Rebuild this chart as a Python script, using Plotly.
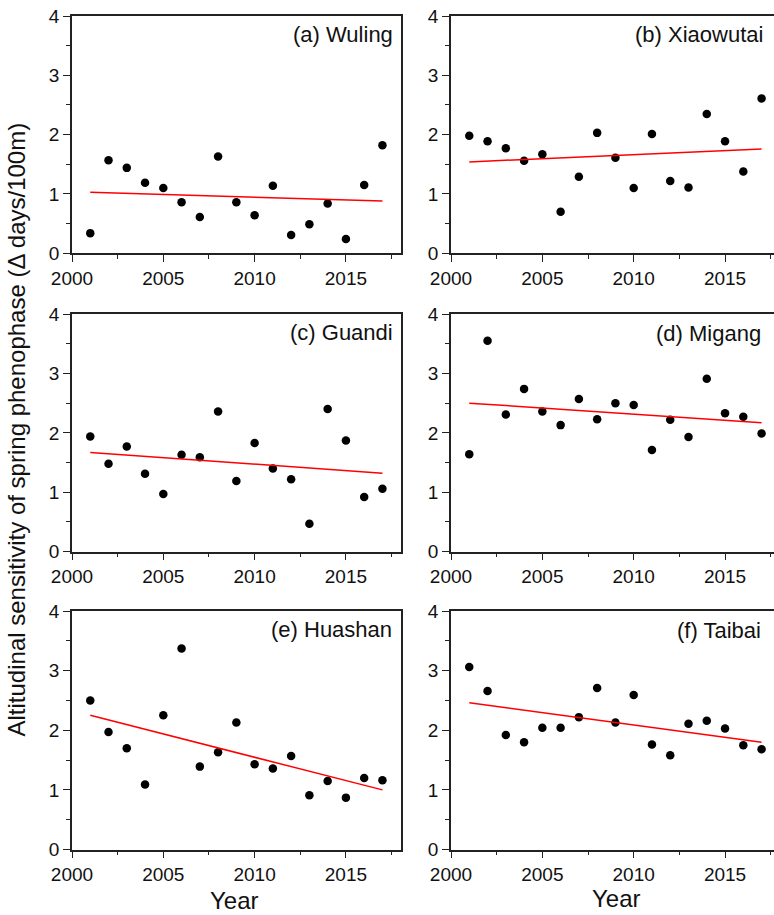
import plotly.graph_objects as go

W, H = 774, 915

years = list(range(2001, 2018))

panel_labels = ["(a) Wuling", "(b) Xiaowutai", "(c) Guandi",
                "(d) Migang", "(e) Huashan", "(f) Taibai"]

wuling = [0.34, 1.57, 1.44, 1.19, 1.10, 0.86, 0.61, 1.63, 0.86, 0.64,
          1.14, 0.31, 0.49, 0.84, 0.24, 1.15, 1.82]
xiaowutai = [1.98, 1.89, 1.77, 1.56, 1.67, 0.70, 1.29, 2.03, 1.61, 1.10,
             2.01, 1.22, 1.11, 2.35, 1.89, 1.38, 2.61]
guandi = [1.94, 1.48, 1.77, 1.31, 0.97, 1.63, 1.59, 2.36, 1.19, 1.83,
          1.40, 1.22, 0.47, 2.40, 1.87, 0.92, 1.06]
migang = [1.64, 3.55, 2.31, 2.74, 2.36, 2.13, 2.57, 2.23, 2.50, 2.47,
          1.71, 2.22, 1.93, 2.91, 2.33, 2.27, 1.99]
huashan = [2.50, 1.97, 1.70, 1.09, 2.25, 3.37, 1.39, 1.63, 2.13, 1.43,
           1.36, 1.57, 0.91, 1.15, 0.87, 1.20, 1.16]
taibai = [3.06, 2.66, 1.92, 1.80, 2.04, 2.04, 2.22, 2.71, 2.13, 2.59,
          1.76, 1.58, 2.11, 2.16, 2.03, 1.75, 1.68]

# trend line end values (at 2001 and 2017)
trend_years = [2001, 2017]
trend_wuling = [1.03, 0.88]
trend_xiaowutai = [1.54, 1.76]
trend_guandi = [1.67, 1.32]
trend_migang = [2.50, 2.17]
trend_huashan = [2.25, 1.00]
trend_taibai = [2.46, 1.80]

x_tickvals = [2000, 2005, 2010, 2015]
y_tickvals = [0, 1, 2, 3, 4]

series = [wuling, xiaowutai, guandi, migang, huashan, taibai]
trends = [trend_wuling, trend_xiaowutai, trend_guandi, trend_migang,
          trend_huashan, trend_taibai]

# layout geometry (pixels)
col_px = [(72, 400.7), (451, 774)]
row_px = [(16, 253.3), (314, 551.7), (611, 849.5)]
x_ranges = [[2000, 2018], [2000, 2017.68]]

FONT = "Liberation Sans, Arial, sans-serif"
AX = "#222222"

fig = go.Figure()
layout = {}
annotations = []

for i in range(6):
    r, c = divmod(i, 2)
    n = i + 1
    xa = "x" if n == 1 else f"x{n}"
    ya = "y" if n == 1 else f"y{n}"
    fig.add_trace(go.Scatter(
        x=years, y=series[i], mode="markers",
        marker=dict(color="black", size=8.5),
        xaxis=xa, yaxis=ya, showlegend=False, cliponaxis=False))
    fig.add_trace(go.Scatter(
        x=trend_years, y=trends[i], mode="lines",
        line=dict(color="#ff0000", width=1.5),
        xaxis=xa, yaxis=ya, showlegend=False))

    x0, x1 = col_px[c]
    t, b = row_px[r]
    xdom = [x0 / W, x1 / W]
    ydom = [1 - b / H, 1 - t / H]

    layout["xaxis" if n == 1 else f"xaxis{n}"] = dict(
        domain=xdom, range=x_ranges[c], anchor=ya, automargin=False,
        tickvals=x_tickvals, ticks="outside", ticklen=7, tickwidth=1.3,
        tickcolor=AX, showline=True, linecolor=AX, linewidth=1.5,
        mirror=True, showgrid=False, zeroline=False,
        tickfont=dict(family=FONT, size=19, color="#111111"),
        minor=dict(dtick=2.5, tick0=2000, ticks="outside", ticklen=4,
                   tickwidth=1.3, tickcolor=AX, showgrid=False),
    )
    layout["yaxis" if n == 1 else f"yaxis{n}"] = dict(
        domain=ydom, range=[0, 4], anchor=xa, automargin=False,
        tickvals=y_tickvals, ticks="outside", ticklen=7, tickwidth=1.3,
        tickcolor=AX, showline=True, linecolor=AX, linewidth=1.5,
        mirror=(c == 0), showgrid=False, zeroline=False,
        tickfont=dict(family=FONT, size=19, color="#111111"),
        minor=dict(dtick=0.5, tick0=0, ticks="outside", ticklen=4,
                   tickwidth=1.3, tickcolor=AX, showgrid=False),
    )

label_pos = [(395, 34), (765, 34), (395, 332), (763, 333), (394, 629), (763, 630)]
for i, (lx, ly) in enumerate(label_pos):
    annotations.append(dict(
        text=panel_labels[i], xref="paper", yref="paper",
        x=lx / W, y=1 - ly / H, xanchor="right", yanchor="middle",
        showarrow=False, font=dict(family=FONT, size=22, color="#111111")))

annotations.append(dict(
    text="Altitudinal sensitivity of spring phenophase (\u0394 days/100m)",
    xref="paper", yref="paper", x=0, y=1 - 430 / H,
    xanchor="left", yanchor="middle", textangle=-90, showarrow=False,
    font=dict(family=FONT, size=24, color="#111111")))

for (yx, yy) in [(234, 900), (616, 898)]:
    annotations.append(dict(
        text="Year", xref="paper", yref="paper", x=yx / W, y=1 - yy / H,
        xanchor="center", yanchor="middle", showarrow=False,
        font=dict(family=FONT, size=24, color="#111111")))

fig.update_layout(
    width=W, height=H, margin=dict(l=0, r=0, t=0, b=0, pad=0, autoexpand=False),
    paper_bgcolor="white", plot_bgcolor="white",
    annotations=annotations, **layout)

fig.write_html("out.html", config={"displayModeBar": False})
